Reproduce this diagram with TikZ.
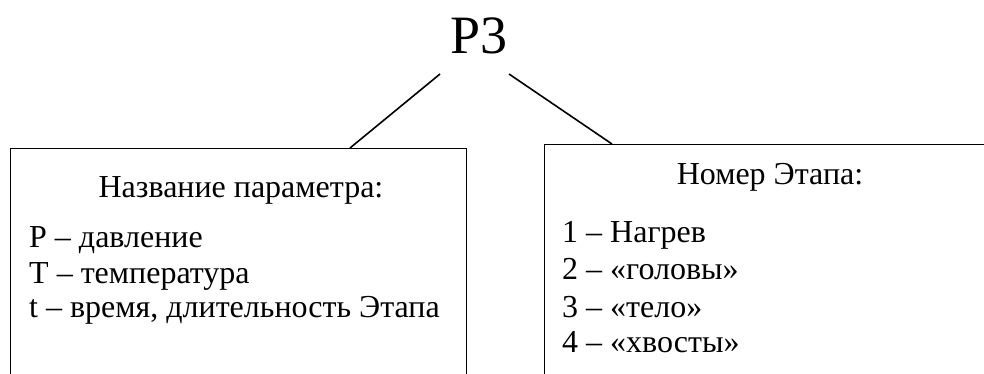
\documentclass[tikz,border=0pt]{standalone}
\usepackage{fontspec}
\setmainfont{Liberation Serif}
\usepackage{tikz}
\tikzset{
    box/.style={draw, line width=0.9pt, minimum height=300pt, anchor=north west, inner sep=0pt},
    head/.style={anchor=base, inner sep=0pt, font=\fontsize{32}{36}\selectfont},
    item/.style={anchor=base west, inner sep=0pt, font=\fontsize{32}{36}\selectfont},
    link/.style={line width=1.6pt}
}

\begin{document}
\begin{tikzpicture}[x=1pt, y=-1pt]
    \clip (0,0) rectangle (984,373);
    \node[anchor=base, inner sep=0pt, font=\fontsize{54}{60}\selectfont] at (479,53) (title) {P3};
    \node[box, minimum width=456pt] at (10,148) (lbox) {};
    \node[box, minimum width=500pt] at (544,144) (rbox) {};
    % left box
    \node[head] at (241,197) (lhead) {Название параметра:};
    \node[item] at (29,247) (p) {P -- давление};
    \node[item] at (29,283) (T) {T -- температура};
    \node[item] at (29,317) (t) {t -- время, длительность Этапа};
    % right box
    \node[head] at (770,184) (rhead) {Номер Этапа:};
    \node[item] at (562,242) (st1) {1 -- Нагрев};
    \node[item] at (562,279) (st2) {2 -- «головы»};
    \node[item] at (562,317) (st3) {3 -- «тело»};
    \node[item] at (562,352) (st4) {4 -- «хвосты»};
    \draw[link] ([shift={(-39,21)}]title.base) -- ([xshift=340pt]lbox.north west);
    \draw[link] ([shift={(30,21)}]title.base) -- ([xshift=68pt]rbox.north west);
\end{tikzpicture}
\end{document}
